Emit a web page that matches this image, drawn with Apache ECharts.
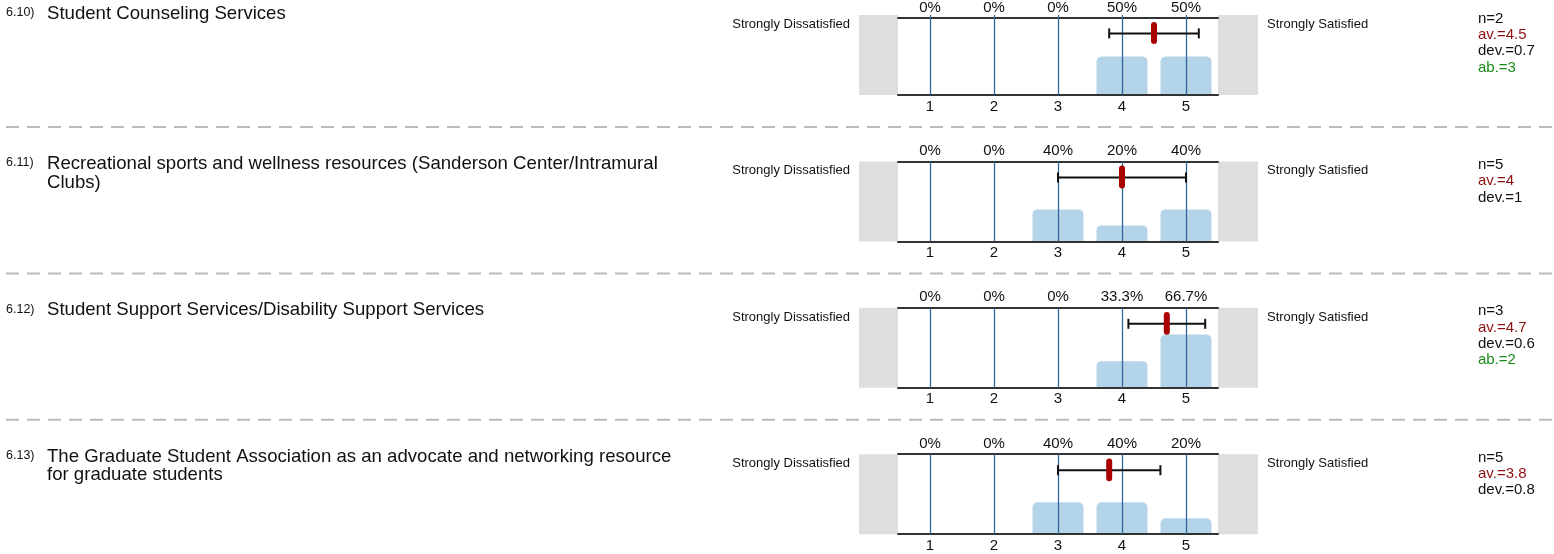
<!DOCTYPE html>
<html>
<head>
<meta charset="utf-8">
<script src="https://cdn.jsdelivr.net/npm/echarts@6/dist/echarts.min.js"></script>
<style>
  html, body { margin: 0; padding: 0; background: #fff; }
  #chart { width: 1554px; height: 554px; }
</style>
</head>
<body>
<div id="chart"></div>
<script>
// survey items
const questionNumbers = ['6.10)', '6.11)', '6.12)', '6.13)']
const questionTitles = [
  'Student Counseling Services',
  'Recreational sports and wellness resources (Sanderson Center/Intramural\nClubs)',
  'Student Support Services/Disability Support Services',
  'The Graduate Student Association as an advocate and networking resource\nfor graduate students'
]
const scaleLabels = ['1', '2', '3', '4', '5']
const leftPole = 'Strongly Dissatisfied'
const rightPole = 'Strongly Satisfied'

// share of answers per scale point (%)
const percents = [
  [0, 0, 0, 50, 50],
  [0, 0, 40, 20, 40],
  [0, 0, 0, 33.3, 66.7],
  [0, 0, 40, 40, 20]
]
const counts = [2, 5, 3, 5]
const averages = [4.5, 4, 4.7, 3.8]
const deviations = [0.7, 1, 0.6, 0.8]
const abstentions = [3, null, 2, null]

// layout
const FONT = '"Liberation Sans", Arial, sans-serif'
const PLOT_LEFT = 898
const PLOT_WIDTH = 320
const PLOT_HEIGHT = 80
const FIRST_TOP = 15
const ROW_STEP = 146.4

const chart = echarts.init(document.getElementById('chart'))

const grids = []
const xAxes = []
const yAxes = []
const series = []
const graphics = []

percents.forEach((row, i) => {
  const top = FIRST_TOP + i * ROW_STEP
  // first block sits a little higher on the page
  const titleTop = i === 0 ? top - 11 : top - 7

  grids.push({ left: PLOT_LEFT, top: top, width: PLOT_WIDTH, height: PLOT_HEIGHT })

  // bottom: scale points, ticks used as the blue vertical guides
  xAxes.push({
    type: 'category',
    gridIndex: i,
    position: 'bottom',
    data: scaleLabels,
    z: 3,
    axisLine: { show: true, lineStyle: { color: '#333', width: 2 } },
    axisTick: {
      show: true,
      alignWithLabel: true,
      inside: true,
      length: PLOT_HEIGHT,
      lineStyle: { color: '#33659a', width: 1.3 }
    },
    axisLabel: { color: '#111', fontSize: 15, fontFamily: FONT, margin: 4 },
    splitLine: { show: false }
  })
  // top: percentages
  xAxes.push({
    type: 'category',
    gridIndex: i,
    position: 'top',
    data: row.map(v => v + '%'),
    z: 3,
    axisLine: { show: true, lineStyle: { color: '#333', width: 2 } },
    axisTick: { show: false },
    axisLabel: { color: '#111', fontSize: 15, fontFamily: FONT, margin: 3 },
    splitLine: { show: false }
  })
  yAxes.push({
    type: 'value',
    gridIndex: i,
    min: 0,
    max: 100,
    show: false,
    splitLine: { show: false }
  })

  series.push({
    type: 'bar',
    xAxisIndex: i * 2,
    yAxisIndex: i,
    barWidth: 51,
    data: row,
    itemStyle: { color: '#b4d4ea', borderRadius: [5, 5, 0, 0] },
    silent: true
  })

  series.push({
    type: 'custom',
    xAxisIndex: i * 2,
    yAxisIndex: i,
    z: 5,
    silent: true,
    data: [[0, 0, averages[i], deviations[i]]],
    encode: { x: 0, y: 1 },
    renderItem(params, api) {
      const c0 = api.coord([0, 0])
      const c1 = api.coord([1, 0])
      const step = c1[0] - c0[0]
      const xAt = v => c0[0] + (v - 1) * step
      const mean = api.value(2)
      const dev = api.value(3)
      const yBar = api.coord([0, 80])[1]
      const x1 = xAt(mean - dev)
      const x2 = xAt(mean + dev)
      const xm = xAt(mean)
      const black = { stroke: '#111', lineWidth: 2 }
      return {
        type: 'group',
        children: [
          { type: 'line', shape: { x1: x1, y1: yBar, x2: x2, y2: yBar }, style: black },
          { type: 'line', shape: { x1: x1, y1: yBar - 5, x2: x1, y2: yBar + 5 }, style: black },
          { type: 'line', shape: { x1: x2, y1: yBar - 5, x2: x2, y2: yBar + 5 }, style: black },
          {
            type: 'line',
            shape: { x1: xm, y1: api.coord([0, 91])[1], x2: xm, y2: api.coord([0, 70])[1] },
            style: { stroke: '#aa0000', lineWidth: 6, lineCap: 'round' }
          }
        ]
      }
    }
  })

  // question number + title
  graphics.push({
    type: 'text', left: 6, top: titleTop + 2,
    style: { text: questionNumbers[i], font: '12.5px ' + FONT, fill: '#111' }
  })
  graphics.push({
    type: 'text', left: 47, top: titleTop,
    style: { text: questionTitles[i], font: '18.6px ' + FONT, fill: '#111', lineHeight: 18.5 }
  })

  // pole labels and grey end boxes
  graphics.push({
    type: 'text', right: 1554 - 850, top: top + 3,
    style: { text: leftPole, font: '13px ' + FONT, fill: '#111' }
  })
  graphics.push({
    type: 'text', left: 1267, top: top + 3,
    style: { text: rightPole, font: '13px ' + FONT, fill: '#111' }
  })
  graphics.push({
    type: 'rect', shape: { x: 859, y: top, width: PLOT_LEFT - 859, height: PLOT_HEIGHT },
    style: { fill: '#dedede' }, z: -1
  })
  graphics.push({
    type: 'rect', shape: { x: PLOT_LEFT + PLOT_WIDTH, y: top, width: 40, height: PLOT_HEIGHT },
    style: { fill: '#dedede' }, z: -1
  })

  // statistics
  const stats = [
    { text: 'n=' + counts[i], color: '#111' },
    { text: 'av.=' + averages[i], color: '#8b1010' },
    { text: 'dev.=' + deviations[i], color: '#111' }
  ]
  if (abstentions[i] !== null) stats.push({ text: 'ab.=' + abstentions[i], color: '#1a8a1a' })
  stats.forEach((s, k) => {
    graphics.push({
      type: 'text', left: 1478, top: top - 4 + k * 16.3,
      style: { text: s.text, font: '15px ' + FONT, fill: s.color }
    })
  })

  // dashed separator
  if (i < percents.length - 1) {
    const y = top + 112
    graphics.push({
      type: 'line',
      shape: { x1: 6, y1: y, x2: 1554, y2: y },
      style: { stroke: '#bbbbbb', lineWidth: 2, lineDash: [13, 8] }
    })
  }
})

chart.setOption({
  animation: false,
  backgroundColor: '#fff',
  grid: grids,
  xAxis: xAxes,
  yAxis: yAxes,
  series: series,
  graphic: graphics
})
</script>
</body>
</html>
